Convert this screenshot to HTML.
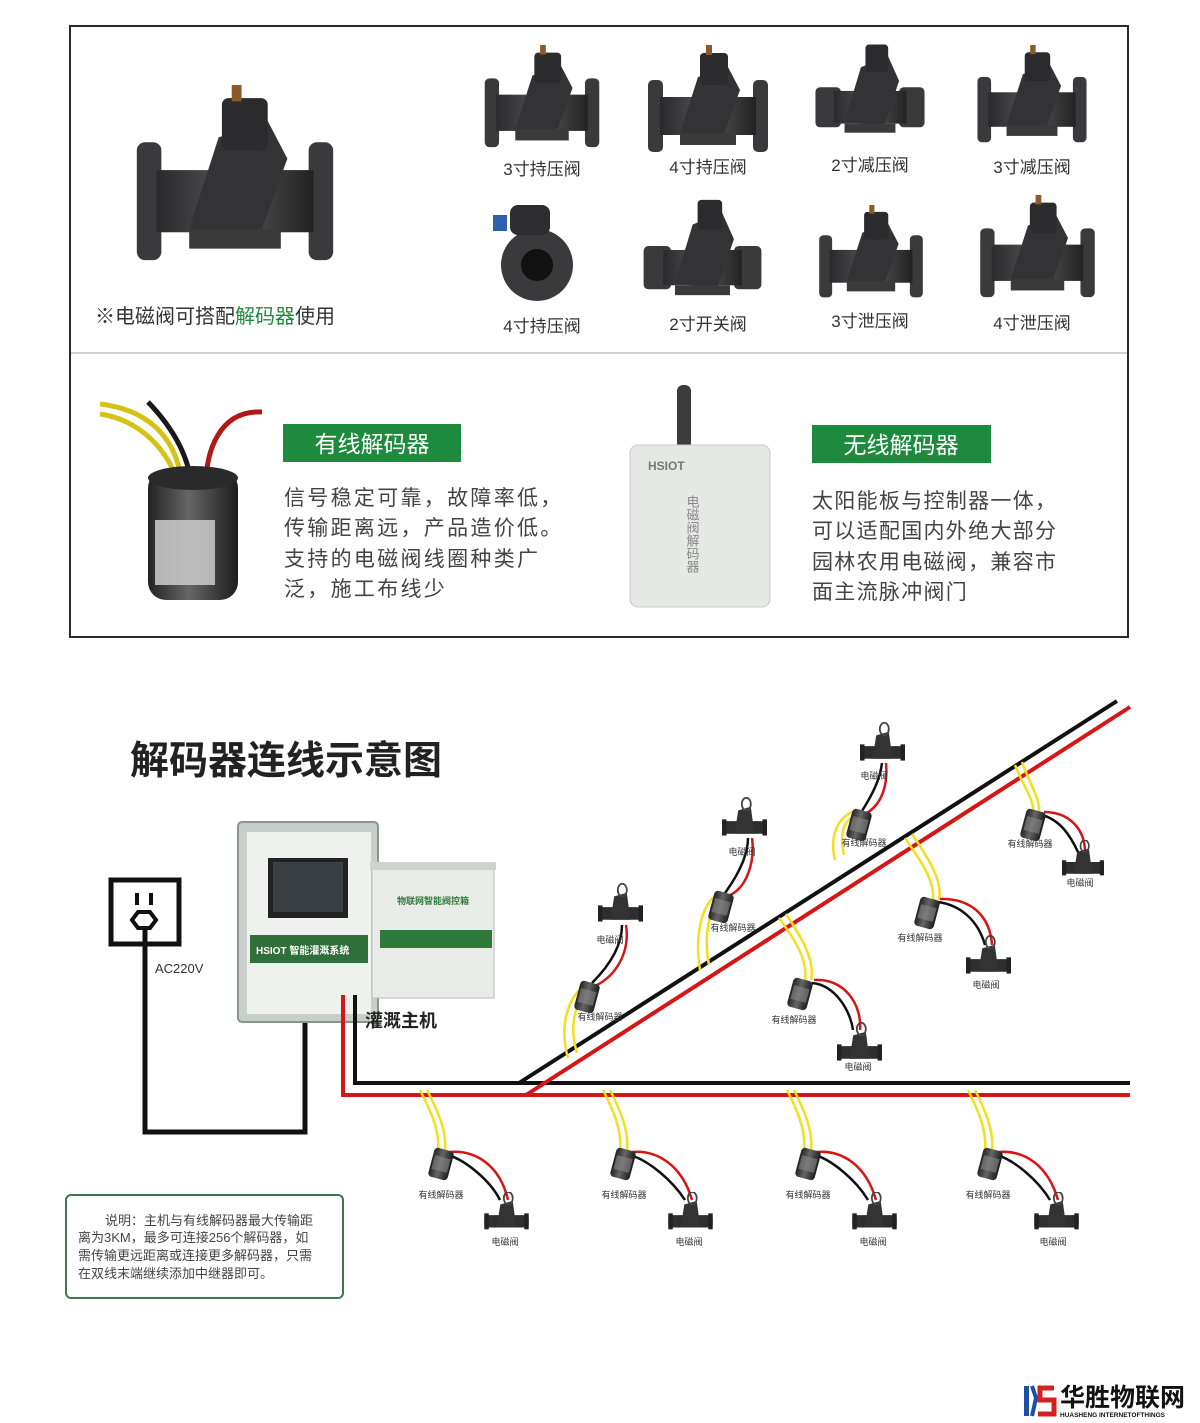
<!DOCTYPE html>
<html><head><meta charset="utf-8"><style>
html,body{margin:0;padding:0;background:#fff;}
svg{display:block;}
text{font-family:"Liberation Sans","Noto Sans CJK SC",sans-serif;}
</style></head><body>
<svg width="1200" height="1423" viewBox="0 0 1200 1423" xmlns="http://www.w3.org/2000/svg">
<defs>
<linearGradient id="metal" x1="0" x2="1"><stop offset="0" stop-color="#2a2a2c"/><stop offset=".5" stop-color="#555558"/><stop offset="1" stop-color="#222"/></linearGradient>
<linearGradient id="cyl" x1="0" x2="1"><stop offset="0" stop-color="#222"/><stop offset=".45" stop-color="#666"/><stop offset="1" stop-color="#1c1c1c"/></linearGradient>
<symbol id="fv" viewBox="0 0 120 110">
<rect x="0" y="35" width="15" height="72" rx="5" fill="#3a3a3d"/>
<rect x="105" y="35" width="15" height="72" rx="5" fill="#3a3a3d"/>
<rect x="12" y="52" width="96" height="38" fill="url(#metal)"/>
<path d="M32,88 L50,32 L80,22 L92,45 L75,92 Z" fill="#333336"/>
<rect x="52" y="8" width="28" height="32" rx="4" fill="#2b2b2d"/>
<rect x="58" y="0" width="6" height="10" fill="#8a5a2a"/>
<rect x="32" y="88" width="56" height="12" fill="#3a3a3a"/>
</symbol>
<symbol id="tv" viewBox="0 0 120 110">
<rect x="0" y="52" width="28" height="44" rx="5" fill="#3a3a3d"/>
<rect x="92" y="52" width="28" height="44" rx="5" fill="#3a3a3d"/>
<rect x="20" y="56" width="80" height="36" fill="url(#metal)"/>
<path d="M32,90 L50,30 L80,18 L92,45 L75,95 Z" fill="#333336"/>
<rect x="55" y="5" width="25" height="30" rx="4" fill="#2b2b2d"/>
<rect x="32" y="92" width="56" height="10" fill="#3a3a3a"/>
</symbol>
<symbol id="sv" viewBox="0 0 50 45">
<rect x="0" y="26" width="50" height="14" rx="3" fill="#2e2e30"/>
<rect x="0" y="24" width="5" height="18" fill="#222"/><rect x="45" y="24" width="5" height="18" fill="#222"/>
<path d="M14,40 L18,14 L32,10 L36,40 Z" fill="#333"/>
<ellipse cx="27" cy="7" rx="5" ry="7" fill="none" stroke="#444" stroke-width="2"/>
</symbol>
<symbol id="dc" viewBox="0 0 26 34">
<g transform="rotate(15 13 17)"><rect x="3" y="2" width="20" height="30" rx="4" fill="url(#cyl)"/><rect x="5" y="10" width="16" height="14" fill="#888" opacity=".6"/></g>
</symbol>
</defs>

<!-- top box -->
<rect x="70" y="26" width="1058" height="611" fill="#fff" stroke="#2a2a2a" stroke-width="2"/>
<line x1="71" y1="353" x2="1127" y2="353" stroke="#d0d0d0" stroke-width="2"/>
<use href="#fv" x="125" y="85" width="220" height="180"/>
<text x="95" y="323" font-size="20" fill="#333">※电磁阀可搭配<tspan fill="#1e8a3e">解码器</tspan>使用</text>

<use href="#fv" x="482" y="45" width="120" height="105"/>
<use href="#fv" x="648" y="45" width="120" height="110"/>
<use href="#tv" x="810" y="40" width="120" height="100"/>
<use href="#fv" x="972" y="45" width="120" height="100"/>
<circle cx="537" cy="265" r="36" fill="#3a3a3d"/><circle cx="537" cy="265" r="16" fill="#111"/><rect x="510" y="205" width="40" height="30" rx="8" fill="#2d2d2f"/><rect x="493" y="215" width="14" height="16" fill="#2f5fb0"/>
<use href="#tv" x="640" y="195" width="125" height="108"/>
<use href="#fv" x="810" y="205" width="122" height="95"/>
<use href="#fv" x="975" y="195" width="125" height="105"/>
<g font-size="17" fill="#333" text-anchor="middle">
<text x="542" y="175">3寸持压阀</text><text x="708" y="173">4寸持压阀</text><text x="870" y="171">2寸减压阀</text><text x="1032" y="173">3寸减压阀</text>
<text x="542" y="332">4寸持压阀</text><text x="708" y="330">2寸开关阀</text><text x="870" y="327">3寸泄压阀</text><text x="1032" y="329">4寸泄压阀</text>
</g>

<!-- wired decoder -->
<path d="M100,404 C150,410 180,440 182,490" stroke="#d4c215" stroke-width="5" fill="none"/>
<path d="M100,414 C140,420 170,450 180,490" stroke="#d4c215" stroke-width="5" fill="none"/>
<path d="M148,402 C175,430 190,460 192,490" stroke="#1a1a1a" stroke-width="5" fill="none"/>
<path d="M262,412 C220,410 205,450 206,490" stroke="#b21818" stroke-width="5" fill="none"/>
<rect x="148" y="470" width="90" height="130" rx="18" fill="url(#cyl)"/>
<ellipse cx="193" cy="478" rx="45" ry="12" fill="#2a2a2a"/>
<rect x="155" y="520" width="60" height="65" fill="#ccc" opacity=".85"/>
<rect x="283" y="424" width="178" height="38" fill="#1e8a3e"/>
<text x="372" y="452" font-size="23" fill="#fff" text-anchor="middle">有线解码器</text>
<g font-size="21" fill="#444" letter-spacing="2.3"><text x="284" y="505">信号稳定可靠，故障率低，</text><text x="284" y="535">传输距离远，产品造价低。</text><text x="284" y="566">支持的电磁阀线圈种类广</text><text x="284" y="596">泛，施工布线少</text></g>

<!-- wireless decoder -->
<rect x="677" y="385" width="14" height="65" rx="6" fill="#3c3c3c"/>
<rect x="630" y="445" width="140" height="162" rx="8" fill="#e6e8e6" stroke="#c8cac8"/>
<text x="648" y="470" font-size="12" fill="#777" font-weight="bold">HSIOT</text>
<text x="692" y="495" font-size="13" fill="#888" writing-mode="tb">电磁阀解码器</text>
<rect x="812" y="425" width="179" height="38" fill="#1e8a3e"/>
<text x="901" y="453" font-size="23" fill="#fff" text-anchor="middle">无线解码器</text>
<g font-size="21" fill="#444" letter-spacing="1.3"><text x="812" y="508">太阳能板与控制器一体，</text><text x="812" y="538">可以适配国内外绝大部分</text><text x="812" y="569">园林农用电磁阀，兼容市</text><text x="812" y="599">面主流脉冲阀门</text></g>

<!-- diagram -->
<text x="130" y="774" font-size="39" fill="#222" font-weight="bold">解码器连线示意图</text>
<rect x="111" y="880" width="68" height="64" fill="none" stroke="#111" stroke-width="5"/>
<rect x="135" y="893" width="4" height="12" fill="#111"/><rect x="149" y="893" width="4" height="12" fill="#111"/>
<path d="M138,912 L150,912 L156,920 L150,928 L138,928 L132,920 Z" fill="none" stroke="#111" stroke-width="4"/>
<polyline points="145,928 145,1132 305,1132 305,1015" fill="none" stroke="#111" stroke-width="5"/>
<text x="155" y="973" font-size="13" fill="#333">AC220V</text>

<rect x="238" y="822" width="140" height="200" rx="4" fill="#c8cfca" stroke="#8a948c" stroke-width="2"/>
<rect x="247" y="832" width="124" height="182" fill="#eef1ee"/>
<rect x="268" y="858" width="80" height="60" fill="#222"/><rect x="273" y="862" width="70" height="50" fill="#3a3f44"/>
<rect x="250" y="935" width="118" height="28" fill="#2e6f3a"/>
<text x="256" y="954" font-size="10" fill="#fff" font-weight="bold">HSIOT 智能灌溉系统</text>
<rect x="372" y="868" width="122" height="130" fill="#e8ebe8" stroke="#bbb"/>
<rect x="370" y="862" width="126" height="8" fill="#d0d2d0"/>
<rect x="380" y="930" width="112" height="18" fill="#2e7a3a"/>
<text x="433" y="904" font-size="9" fill="#2e7a3a" text-anchor="middle" font-weight="bold">物联网智能阀控箱</text>
<text x="365" y="1027" font-size="18" fill="#222" font-weight="bold">灌溉主机</text>

<!-- main lines -->
<polyline points="355,995 355,1083 1130,1083" fill="none" stroke="#111" stroke-width="4"/>
<polyline points="343,995 343,1095 1130,1095" fill="none" stroke="#d61515" stroke-width="4"/>
<line x1="519" y1="1083" x2="1117" y2="701" stroke="#111" stroke-width="4"/>
<line x1="526" y1="1095" x2="1130" y2="707" stroke="#d61515" stroke-width="4"/>

<g fill="none" stroke-width="2.5">
<g stroke="#f0e020">
<path d="M568,1058 C560,1030 565,1000 585,985"/><path d="M577,1053 C570,1030 572,1005 590,988"/>
<path d="M700,970 C695,940 700,905 717,895"/><path d="M709,965 C704,940 707,910 722,898"/>
<path d="M835,860 C830,840 835,820 852,812"/><path d="M844,855 C840,835 842,820 857,815"/>
<path d="M1015,765 C1025,790 1035,800 1033,815"/><path d="M1022,762 C1032,790 1042,800 1038,815"/>
<path d="M905,838 C920,860 935,880 933,900"/><path d="M912,834 C928,858 943,880 939,900"/>
<path d="M779,918 C795,940 808,960 805,980"/><path d="M786,914 C802,938 815,960 811,980"/>
<path d="M420,1090 C430,1110 440,1130 438,1150"/><path d="M427,1090 C437,1110 447,1130 445,1150"/>
<path d="M603,1090 C613,1110 622,1130 620,1150"/><path d="M610,1090 C620,1110 629,1130 627,1150"/>
<path d="M787,1090 C797,1110 806,1130 804,1150"/><path d="M794,1090 C804,1110 813,1130 811,1150"/>
<path d="M968,1090 C978,1110 987,1130 985,1150"/><path d="M975,1090 C985,1110 994,1130 992,1150"/>
</g>
<g stroke="#111">
<path d="M592,983 C610,965 622,945 622,925"/><path d="M725,893 C738,875 748,855 748,838"/><path d="M862,811 C872,795 880,780 882,763"/>
<path d="M1042,815 C1060,820 1070,835 1078,852"/><path d="M938,902 C960,905 978,920 985,945"/><path d="M812,983 C835,985 850,1010 853,1030"/>
<path d="M448,1155 C465,1160 490,1180 500,1200"/><path d="M630,1155 C648,1160 672,1180 685,1200"/><path d="M815,1155 C832,1160 856,1180 868,1200"/><path d="M997,1155 C1014,1160 1038,1180 1050,1200"/>
</g>
<g stroke="#d61515">
<path d="M595,986 C618,975 630,950 626,925"/><path d="M728,896 C748,888 755,860 752,838"/><path d="M865,814 C882,805 888,785 886,763"/>
<path d="M1044,812 C1070,812 1085,830 1085,852"/><path d="M940,899 C970,898 990,915 992,945"/><path d="M814,980 C845,978 862,1005 860,1030"/>
<path d="M450,1152 C475,1150 500,1165 508,1200"/><path d="M632,1152 C657,1150 682,1165 692,1200"/><path d="M817,1152 C842,1150 866,1165 876,1200"/><path d="M999,1152 C1024,1150 1048,1165 1058,1200"/>
</g>
</g>

<use href="#dc" x="574" y="980" width="26" height="34"/>
<use href="#dc" x="708" y="890" width="26" height="34"/>
<use href="#dc" x="846" y="808" width="26" height="34"/>
<use href="#dc" x="1020" y="808" width="26" height="34"/>
<use href="#dc" x="914" y="896" width="26" height="34"/>
<use href="#dc" x="787" y="977" width="26" height="34"/>
<use href="#dc" x="428" y="1147" width="26" height="34"/>
<use href="#dc" x="610" y="1147" width="26" height="34"/>
<use href="#dc" x="795" y="1147" width="26" height="34"/>
<use href="#dc" x="977" y="1147" width="26" height="34"/>
<use href="#sv" x="598" y="883" width="45" height="42"/>
<use href="#sv" x="722" y="797" width="45" height="42"/>
<use href="#sv" x="860" y="722" width="45" height="42"/>
<use href="#sv" x="1062" y="840" width="42" height="38"/>
<use href="#sv" x="966" y="935" width="45" height="42"/>
<use href="#sv" x="837" y="1022" width="45" height="42"/>
<use href="#sv" x="484" y="1192" width="45" height="40"/>
<use href="#sv" x="668" y="1192" width="45" height="40"/>
<use href="#sv" x="852" y="1192" width="45" height="40"/>
<use href="#sv" x="1034" y="1192" width="45" height="40"/>

<g font-size="9" fill="#333" text-anchor="middle">
<text x="610" y="943">电磁阀</text><text x="742" y="855">电磁阀</text><text x="874" y="779">电磁阀</text><text x="1080" y="886">电磁阀</text><text x="986" y="988">电磁阀</text><text x="858" y="1070">电磁阀</text>
<text x="600" y="1020">有线解码器</text><text x="733" y="931">有线解码器</text><text x="864" y="846">有线解码器</text><text x="1030" y="847">有线解码器</text><text x="920" y="941">有线解码器</text><text x="794" y="1023">有线解码器</text>
<text x="441" y="1198">有线解码器</text><text x="624" y="1198">有线解码器</text><text x="808" y="1198">有线解码器</text><text x="988" y="1198">有线解码器</text>
<text x="505" y="1245">电磁阀</text><text x="689" y="1245">电磁阀</text><text x="873" y="1245">电磁阀</text><text x="1053" y="1245">电磁阀</text>
</g>

<rect x="66" y="1195" width="277" height="103" rx="5" fill="#fff" stroke="#3c7a4c" stroke-width="2"/>
<g font-size="13" fill="#444"><text x="105" y="1225">说明：主机与有线解码器最大传输距</text><text x="78" y="1242">离为3KM，最多可连接256个解码器，如</text><text x="78" y="1260">需传输更远距离或连接更多解码器，只需</text><text x="78" y="1278">在双线末端继续添加中继器即可。</text></g>

<path d="M1024,1386 L1029,1386 L1029,1416 L1024,1416 Z" fill="#1c4fa8"/>
<path d="M1032,1386 L1036,1398 L1032,1416" fill="none" stroke="#1c4fa8" stroke-width="4"/>
<path d="M1054,1388 L1040,1388 L1040,1400 L1054,1400 L1054,1414 L1038,1414" fill="none" stroke="#d62020" stroke-width="5"/>
<text x="1060" y="1406" font-size="25" font-weight="bold" fill="#111">华胜物联网</text>
<text x="1060" y="1417" font-size="6.5" font-weight="bold" fill="#111">HUASHENG INTERNETOFTHINGS</text>
</svg>
</body></html>
